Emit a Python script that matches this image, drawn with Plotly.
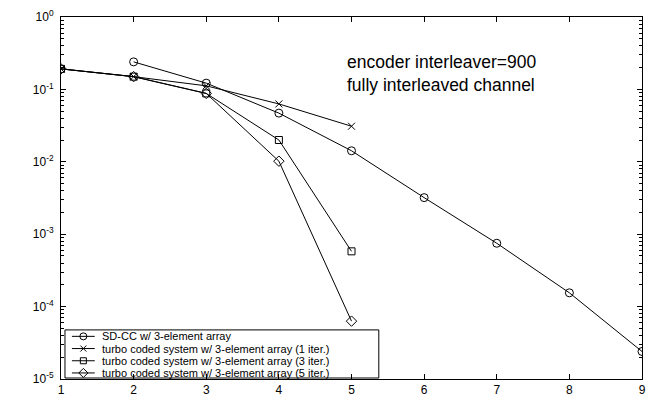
import plotly.graph_objects as go

# ---- data ----
snr_sdcc = [2, 3, 4, 5, 6, 7, 8, 9]
ber_sdcc = [0.24, 0.122, 0.047, 0.0142, 0.0032, 7.5e-4, 1.55e-4, 2.4e-5]

snr_turbo = [1, 2, 3, 4, 5]
ber_turbo1 = [0.192, 0.150, 0.112, 0.063, 0.031]
ber_turbo3 = [0.192, 0.150, 0.088, 0.020, 5.8e-4]
ber_turbo5 = [0.192, 0.150, 0.088, 0.0102, 6.3e-5]

series_names = [
    "SD-CC w/ 3-element array",
    "turbo coded system w/ 3-element array (1 iter.)",
    "turbo coded system w/ 3-element array (3 iter.)",
    "turbo coded system w/ 3-element array (5 iter.)",
]
series_symbols = ["circle-open", "x-thin-open", "square-open", "diamond-open"]
series_sizes = [8, 7, 7, 8]

x_ticks = [1, 2, 3, 4, 5, 6, 7, 8, 9]
y_exponents = [0, -1, -2, -3, -4, -5]

series_x = [snr_sdcc, snr_turbo, snr_turbo, snr_turbo]
series_y = [ber_sdcc, ber_turbo1, ber_turbo3, ber_turbo5]

FONT = "Liberation Sans, Arial, Helvetica, sans-serif"

fig = go.Figure()
for xs, ys, name, sym, sz in zip(series_x, series_y, series_names, series_symbols, series_sizes):
    fig.add_trace(go.Scatter(
        x=xs, y=ys, mode="lines+markers", name=name,
        line=dict(color="black", width=1),
        marker=dict(symbol=sym, size=sz, color="black", line=dict(color="black", width=1)),
        showlegend=False,
    ))

# ---- hand-made compact legend (like the MATLAB one) on a pixel overlay axis ----
L, R, T, B = 61, 646, 14, 379
row_y = [336, 348.3, 360.6, 372.9]
for ry, name, sym, sz in zip(row_y, series_names, series_symbols, series_sizes):
    fig.add_trace(go.Scatter(
        x=[72, 95], y=[ry, ry], mode="lines", xaxis="x2", yaxis="y2",
        line=dict(color="black", width=1), showlegend=False, hoverinfo="skip"))
    fig.add_trace(go.Scatter(
        x=[83.5], y=[ry], mode="markers", xaxis="x2", yaxis="y2",
        marker=dict(symbol=sym, size=sz - 1, color="black", line=dict(color="black", width=1)),
        showlegend=False, hoverinfo="skip"))
    fig.add_annotation(x=101, y=ry, xref="x2", yref="y2", text=name, showarrow=False,
                       xanchor="left", yanchor="middle", borderpad=0,
                       font=dict(family=FONT, size=11, color="black"))

fig.add_shape(type="rect", xref="x2", yref="y2", x0=65, x1=381, y0=329.5, y1=378,
              line=dict(color="black", width=1), fillcolor="white", layer="below")

# ---- text inside the axes ----
fig.add_annotation(x=347, y=71, xref="x2", yref="y2",
                   text="encoder interleaver=900<br>fully interleaved channel",
                   showarrow=False, xanchor="left", yanchor="middle", align="left",
                   font=dict(family=FONT, size=17.5, color="black"))

# axis titles
fig.add_annotation(x=22, y=(T + B) / 2, xref="x2", yref="y2", text="BER<sub>1</sub>",
                   showarrow=False, textangle=-90, xanchor="center", yanchor="middle",
                   font=dict(family=FONT, size=12, color="black"))
fig.add_annotation(x=(L + R) / 2, y=406, xref="x2", yref="y2", text="SNR(dB)",
                   showarrow=False, xanchor="center", yanchor="middle",
                   font=dict(family=FONT, size=12, color="black"))

minor_vals = [k * 10.0 ** e for e in range(-5, 0) for k in range(2, 10)]

fig.update_layout(
    width=654, height=414,
    margin=dict(l=L, r=654 - R, t=T, b=414 - B),
    paper_bgcolor="white", plot_bgcolor="white",
    showlegend=False,
    font=dict(family=FONT, size=12, color="black"),
    xaxis=dict(
        range=[1, 9], tickmode="array", tickvals=x_ticks, ticktext=[str(v) for v in x_ticks],
        ticks="inside", ticklen=5, tickcolor="black", showline=True, linecolor="black",
        linewidth=1, mirror="allticks", showgrid=False, zeroline=False,
        tickfont=dict(family=FONT, size=12, color="black"),
    ),
    yaxis=dict(
        type="log", range=[-5, 0], tickmode="array",
        tickvals=[10.0 ** e for e in y_exponents],
        ticktext=["10<sup>%d</sup>" % e for e in y_exponents],
        ticks="inside", ticklen=5, tickcolor="black", showline=True, linecolor="black",
        linewidth=1, mirror="allticks", showgrid=False, zeroline=False,
        ticklabelstandoff=4,
        tickfont=dict(family=FONT, size=12, color="black"),
        minor=dict(tickmode="array", tickvals=minor_vals, ticks="inside", ticklen=3,
                   tickcolor="black", showgrid=False),
    ),
    xaxis2=dict(overlaying="x", range=[L, R], visible=False, fixedrange=True),
    yaxis2=dict(overlaying="y", range=[B, T], visible=False, fixedrange=True),
)

fig.write_html("out.html")
